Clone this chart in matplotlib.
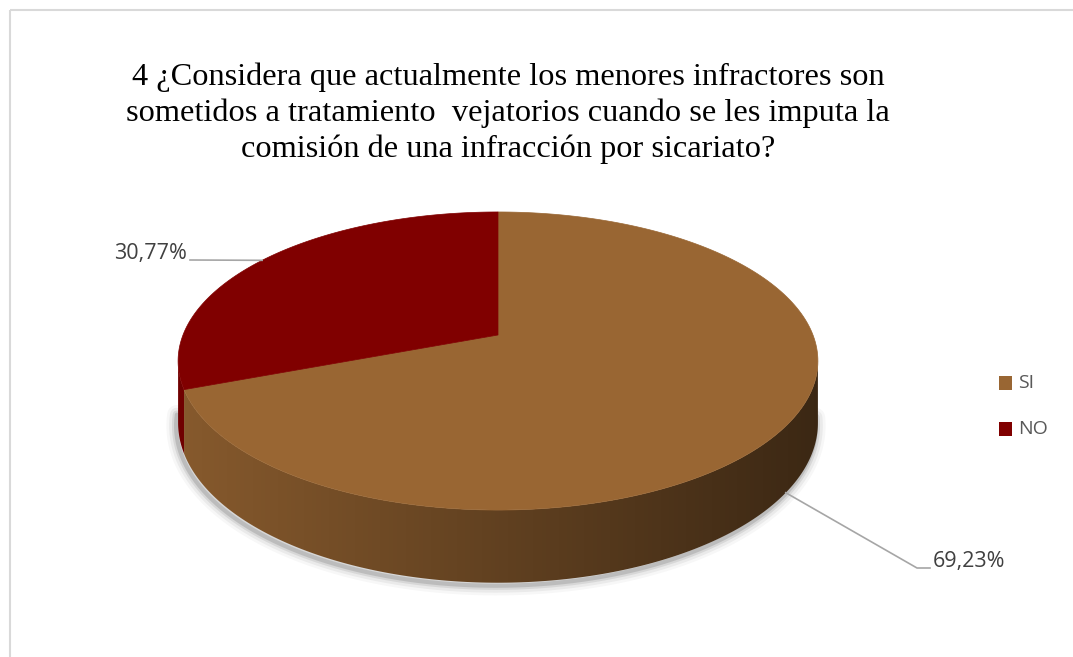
import numpy as np
import matplotlib
matplotlib.use("Agg")
import matplotlib.pyplot as plt
from matplotlib.patches import Polygon, Rectangle

# data
labels = ["SI", "NO"]
values = [69.23, 30.77]
value_labels = ["69,23%", "30,77%"]
colors = ["#996633", "#800000"]
title = ("4 ¿Considera que actualmente los menores infractores son\n"
         "sometidos a tratamiento  vejatorios cuando se les imputa la\n"
         "comisión de una infracción por sicariato?")

W, H = 1073, 657
fig = plt.figure(figsize=(W / 100, H / 100), dpi=100)
ax = fig.add_axes([0, 0, 1, 1])
ax.set_xlim(0, W)
ax.set_ylim(H, 0)
ax.axis("off")

# chart frame
ax.add_patch(Rectangle((10, 10), 1080, 700, fill=False, ec="#d9d9d9", lw=1.5))

ax.text(508, 113, title, ha="center", va="center", fontsize=23.3,
        family="Liberation Serif", color="black", linespacing=1.3)

# perspective pie geometry (pixels)
CX, CY = 498, 335
S, T, K, DEPTH = 315, 144.5, 0.1745, 60


def proj(theta_deg, z=0.0):
    th = np.radians(theta_deg)
    x, y = np.cos(th), np.sin(th)
    w = 1 + K * y
    return CX + S * x / w, CY + (-T * y + z * DEPTH) / w


def arc(a0, a1, z=0.0, n=200):
    th = np.linspace(a0, a1, n)
    px, py = proj(th, z)
    return np.column_stack([px, py])


th_l = 180 + np.degrees(np.arcsin(K))
th_r = 360 - np.degrees(np.arcsin(K))

# soft shadow under the bottom rim
shadow = arc(th_l - 4, th_r + 3, 1.0)
shadow[:, 0] -= 2
shadow[:, 1] += 3
for lw, a in [(14, 0.03), (10, 0.05), (6, 0.08), (3, 0.12)]:
    ax.plot(shadow[:, 0], shadow[:, 1], color="black", lw=lw, alpha=a,
            solid_capstyle="round", zorder=1)

cum = np.concatenate([[0], np.cumsum(values)]) / np.sum(values) * 360
grad_x0, grad_x1 = proj(th_l)[0], proj(th_r)[0]

for i, col in enumerate(colors):
    t0 = 90 - cum[i + 1]
    t1 = 90 - cum[i]
    base = np.array(matplotlib.colors.to_rgb(col))
    # side wall (visible front part)
    for shift in (-360, 0, 360):
        lo = max(t0 + shift, th_l)
        hi = min(t1 + shift, th_r)
        if hi <= lo:
            continue
        top = arc(lo, hi, 0)
        bot = arc(hi, lo, 1.0)
        side = Polygon(np.vstack([top, bot]), closed=True, fc="none", ec="none")
        ax.add_patch(side)
        g = np.linspace(0, 1, 256)
        fac = 0.88 - (0.88 - 0.39) * g
        img = (base[None, :] * fac[:, None])[None, :, :]
        im = ax.imshow(img, extent=[grad_x0, grad_x1, 600, 300], aspect="auto",
                       interpolation="bilinear", zorder=2)
        im.set_clip_path(side)
    # top face
    pts = np.vstack([[CX, CY], arc(t0, t1, 0)])
    ax.add_patch(Polygon(pts, closed=True, fc=col, ec=col, lw=0.5, zorder=3))

# data labels with leader lines
label_pos = [(933, 561, "left"), (187, 253, "right")]
elbow = [[(917, 568), (930, 568)], [(190, 260)]]
for i, txt in enumerate(value_labels):
    mid = 90 - (cum[i] + cum[i + 1]) / 2
    z = 1.0 if i == 0 else 0.0
    sx, sy = proj(mid, z)
    xs = [sx] + [p[0] for p in elbow[i]]
    ys = [sy] + [p[1] for p in elbow[i]]
    ax.plot(xs, ys, color="#a6a6a6", lw=1.2, zorder=4)
    lx, ly, ha = label_pos[i]
    ax.text(lx, ly, txt, ha=ha, va="center", fontsize=15.5, family="Open Sans",
            color="#404040")

# legend
for i, (lab, col) in enumerate(zip(labels, colors)):
    y = 383 + i * 46
    ax.add_patch(Rectangle((999, y - 7), 13, 14, fc=col, ec="none"))
    ax.text(1018, y, lab, ha="left", va="center", fontsize=14,
            family="Open Sans", color="#595959")

fig.savefig("out.png", dpi=100)
